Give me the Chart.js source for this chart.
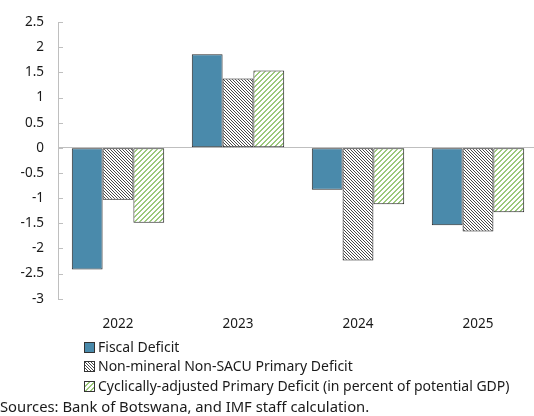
<!DOCTYPE html>
<html>
<head>
<meta charset="utf-8">
<script src="https://cdn.jsdelivr.net/npm/chart.js@4.4.1/dist/chart.umd.min.js"></script>
<style>
  body { margin: 0; background: #fff; font-family: "Noto Sans", sans-serif; color: #1a1a1a; }
  #wrap { position: relative; width: 534px; height: 416px; overflow: hidden; }
  #chart { position: absolute; left: 0; top: 0; }
  .leg { position: absolute; left: 84px; font-size: 14px; line-height: 18px; white-space: nowrap; }
  .leg canvas { vertical-align: -1px; margin-right: 3px; }
  #src { position: absolute; left: 0; top: 397px; font-size: 14.8px; line-height: 19px; white-space: nowrap; }
</style>
</head>
<body>
<div id="wrap">
  <canvas id="chart" width="540" height="353"></canvas>
  <div class="leg" style="top:338px"><canvas id="lg0" width="11" height="11"></canvas>Fiscal Deficit</div>
  <div class="leg" style="top:357px"><canvas id="lg1" width="11" height="11"></canvas>Non-mineral Non-SACU Primary Deficit</div>
  <div class="leg" style="top:377px"><canvas id="lg2" width="11" height="11"></canvas>Cyclically-adjusted Primary Deficit (in percent of potential GDP)</div>
  <div id="src">Sources: Bank of Botswana, and IMF staff calculation.</div>
</div>
<script>
const years = ['2022', '2023', '2024', '2025'];
const seriesNames = [
  'Fiscal Deficit',
  'Non-mineral Non-SACU Primary Deficit',
  'Cyclically-adjusted Primary Deficit (in percent of potential GDP)'
];
const fiscalDeficit = [-2.42, 1.86, -0.83, -1.54];
const nonMineralDeficit = [-1.03, 1.38, -2.24, -1.66];
const cyclicalDeficit = [-1.49, 1.54, -1.12, -1.28];
const yMin = -3, yMax = 2.5, yStep = 0.5;

const axisGray = '#bfbfbf';
const fiscalBlue = '#4a8aab';

// small tiled patterns for the hatched bars
function makePattern(size, on, color) {
  const c = document.createElement('canvas');
  c.width = size; c.height = size;
  const x = c.getContext('2d');
  x.fillStyle = '#fff';
  x.fillRect(0, 0, size, size);
  x.fillStyle = color;
  for (let i = 0; i < size; i++) {
    for (let j = 0; j < size; j++) {
      if (on(i, j)) x.fillRect(i, j, 1, 1);
    }
  }
  return c;
}
const hatchTile = makePattern(3, (i, j) => (i - j + 3) % 3 === 0, '#484848');
const greenTile = makePattern(5, (i, j) => (i + j) % 5 < 2, '#9cc97c');

const ctx = document.getElementById('chart').getContext('2d');
const hatch = ctx.createPattern(hatchTile, 'repeat');
const green = ctx.createPattern(greenTile, 'repeat');

// inward tick marks on the value axis
const innerTicks = {
  id: 'innerTicks',
  afterDraw(chart) {
    const y = chart.scales.y;
    const c = chart.ctx;
    c.save();
    c.strokeStyle = axisGray;
    c.lineWidth = 1;
    y.ticks.forEach((t, i) => {
      const py = Math.round(y.getPixelForTick(i)) + 0.5;
      c.beginPath();
      c.moveTo(y.right, py);
      c.lineTo(y.right + 5, py);
      c.stroke();
    });
    c.restore();
  }
};

Chart.defaults.font.family = '"Noto Sans", sans-serif';
Chart.defaults.font.size = 13.5;
Chart.defaults.color = '#1a1a1a';

new Chart(ctx, {
  type: 'bar',
  data: {
    labels: years,
    datasets: [
      { label: seriesNames[0], data: fiscalDeficit, backgroundColor: fiscalBlue, borderColor: '#2a2a2a' },
      { label: seriesNames[1], data: nonMineralDeficit, backgroundColor: hatch, borderColor: '#111' },
      { label: seriesNames[2], data: cyclicalDeficit, backgroundColor: green, borderColor: '#222' }
    ]
  },
  options: {
    responsive: false,
    animation: false,
    datasets: { bar: { borderWidth: 1, borderSkipped: false, categoryPercentage: 0.77, barPercentage: 1 } },
    layout: { padding: { top: 14, right: 2, left: 0, bottom: 4 } },
    plugins: { legend: { display: false }, tooltip: { enabled: false } },
    scales: {
      x: {
        grid: { display: false, drawTicks: false },
        border: { display: false },
        ticks: { padding: 17 }
      },
      y: {
        min: yMin,
        max: yMax,
        afterFit(s) { s.width = 58; },
        ticks: { stepSize: yStep, padding: 14, callback: v => String(v) },
        border: { display: true, color: axisGray },
        grid: {
          drawTicks: false,
          color: c => c.tick && c.tick.value === 0 ? axisGray : 'rgba(0,0,0,0)'
        }
      }
    }
  },
  plugins: [innerTicks]
});

// legend swatches
const swatches = [fiscalBlue, hatchTile, greenTile];
swatches.forEach((s, i) => {
  const lc = document.getElementById('lg' + i).getContext('2d');
  lc.fillStyle = typeof s === 'string' ? s : lc.createPattern(s, 'repeat');
  lc.fillRect(0, 0, 11, 11);
  lc.strokeStyle = '#333';
  lc.lineWidth = 1;
  lc.strokeRect(0.5, 0.5, 10, 10);
});
</script>
</body>
</html>
